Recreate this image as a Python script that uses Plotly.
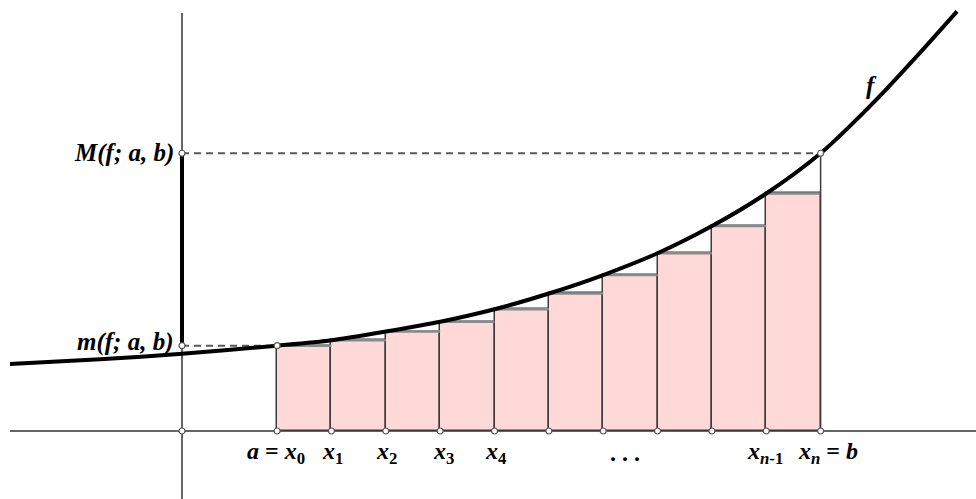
import plotly.graph_objects as go

# ---- data (units: one partition step = 1) ----
x_nodes = [1.75, 2.75, 3.75, 4.75, 5.75, 6.75, 7.75, 8.75, 9.75, 10.75, 11.75]
f_nodes = [1.57, 1.67, 1.83, 2.01, 2.24, 2.53, 2.87, 3.27, 3.77, 4.37, 5.11]
curve_left_x = [-3.165, -1.51, 0.0]
curve_left_y = [1.233, 1.32, 1.42]
curve_right_x = [12.40, 12.97, 13.58, 14.26]
curve_right_y = [5.72, 6.30, 6.96, 7.72]
x_tick_labels = ["<i>a</i> = <i>x</i><sub>0</sub>", "<i>x</i><sub>1</sub>", "<i>x</i><sub>2</sub>",
                 "<i>x</i><sub>3</sub>", "<i>x</i><sub>4</sub>", ". . .",
                 "<i>x</i><sub><i>n</i>-1</sub>", "<i>x</i><sub><i>n</i></sub> = <i>b</i>"]
x_tick_px = [276, 332, 386, 443, 496, 625, 765, 828]
label_M = "M(f; a, b)"
label_m = "m(f; a, b)"
label_f = "f"

S = 54.35  # pixels per unit
W, H = 976, 499
X0PX, Y0PX = 182, 431
xr = [-X0PX / S, (W - X0PX) / S]
yr = [-(H - Y0PX) / S, Y0PX / S]

a, b = x_nodes[0], x_nodes[-1]
fa, fb = f_nodes[0], f_nodes[-1]

fig = go.Figure()

# rectangles (lower sum)
centers = [(x_nodes[i] + x_nodes[i + 1]) / 2 for i in range(len(x_nodes) - 1)]
heights = f_nodes[:-1]
fig.add_trace(go.Bar(x=centers, y=heights, width=1.0, base=0,
                     marker=dict(color="rgb(255,216,216)",
                                 line=dict(color="#3c3c3c", width=1.5))))
# grey top edges
tx, ty = [], []
for i in range(len(heights)):
    tx += [x_nodes[i], x_nodes[i + 1], None]
    ty += [heights[i], heights[i], None]
fig.add_trace(go.Scatter(x=tx, y=ty, mode="lines",
                         line=dict(color="#8a8a8a", width=2.5)))
# right edge at b
fig.add_trace(go.Scatter(x=[b, b], y=[0, fb], mode="lines",
                         line=dict(color="#3c3c3c", width=1.5)))

# axes
fig.add_trace(go.Scatter(x=[(10 - X0PX) / S, xr[1]], y=[0, 0], mode="lines",
                         line=dict(color="#333333", width=1.5)))
fig.add_trace(go.Scatter(x=[0, 0], y=[yr[0], (Y0PX - 13) / S], mode="lines",
                         line=dict(color="#333333", width=1.5)))

# dashed guides
fig.add_trace(go.Scatter(x=[0, a], y=[fa, fa], mode="lines",
                         line=dict(color="#5a5a5a", width=2, dash="7px,5px")))
fig.add_trace(go.Scatter(x=[0, b], y=[fb, fb], mode="lines",
                         line=dict(color="#5a5a5a", width=2, dash="7px,5px")))

# thick segment on y axis
fig.add_trace(go.Scatter(x=[0, 0], y=[fa, fb], mode="lines",
                         line=dict(color="black", width=4)))

# curve f
cx = curve_left_x + x_nodes + curve_right_x
cy = curve_left_y + f_nodes + curve_right_y
fig.add_trace(go.Scatter(x=cx, y=cy, mode="lines",
                         line=dict(color="black", width=4, shape="spline", smoothing=0.8)))

# points
px_ = [0] + x_nodes + [0, 0, a, b]
py_ = [0] + [0] * len(x_nodes) + [fa, fb, fa, fb]
fig.add_trace(go.Scatter(x=px_, y=py_, mode="markers",
                         marker=dict(size=6, color="white",
                                     line=dict(color="#555555", width=1.2))))

font_lbl = dict(family="Liberation Serif", size=25, color="black", weight="bold", style="italic")
font_x = dict(family="Liberation Serif", size=24, color="black", weight="bold", style="normal")
ann = []
ann.append(dict(x=-6 / S, y=fb, text=label_M, xanchor="right", yanchor="middle",
                showarrow=False, font=font_lbl))
ann.append(dict(x=-6 / S, y=fa + 4 / S, text=label_m, xanchor="right", yanchor="middle",
                showarrow=False, font=font_lbl))
ann.append(dict(x=(871 - X0PX) / S, y=(Y0PX - 85) / S, text=label_f, xanchor="center",
                yanchor="middle", showarrow=False, font=font_lbl))
for t, xp in zip(x_tick_labels, x_tick_px):
    ann.append(dict(x=(xp - X0PX) / S, y=-22 / S, text=t, xanchor="center", yanchor="middle",
                    showarrow=False, font=font_x))
fig.update_layout(annotations=ann)

fig.update_layout(width=W, height=H, margin=dict(l=0, r=0, t=0, b=0),
                  paper_bgcolor="white", plot_bgcolor="white", showlegend=False,
                  hovermode=False, bargap=0,
                  xaxis=dict(range=xr, visible=False, fixedrange=True),
                  yaxis=dict(range=yr, visible=False, fixedrange=True))

fig.write_html("out.html", config={"displayModeBar": False},
               post_script="document.body.style.margin='0';")
